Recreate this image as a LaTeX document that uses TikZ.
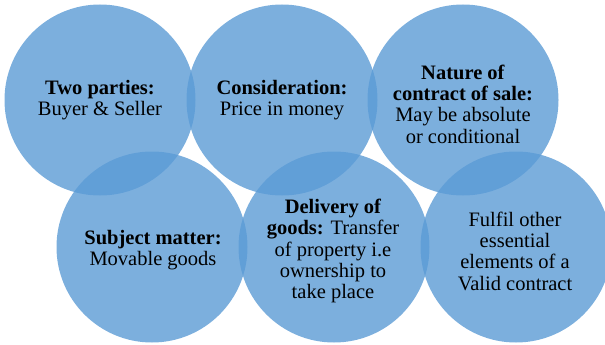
\documentclass[tikz,border=0pt]{standalone}
\usepackage{fontspec}
\setmainfont{Liberation Serif}
\definecolor{bubble}{RGB}{91,155,213}
\begin{document}
\begin{tikzpicture}[x=1pt,y=-1pt,
  bub/.style={circle,minimum size=191pt,inner sep=0pt,fill=bubble,fill opacity=0.8,draw=none},
  lbl/.style={align=center,font=\fontsize{20.5}{21.3}\selectfont,text=black,inner sep=0pt}]
\useasboundingbox (0,0) rectangle (605,345);
\node[bub] (c1) at (100,100) {};
\node[bub] (c2) at (282,100) {};
\node[bub] (c3) at (463,100) {};
\node[bub] (c4) at (152,247) {};
\node[bub] (c5) at (334,247) {};
\node[bub] (c6) at (516,247) {};
\node[lbl] (t1) at (c1.center) {\textbf{Two parties:}\\Buyer \& Seller};
\node[lbl] (t2) at (c2.center) {\textbf{Consideration:}\\Price in money};
\node[lbl] (t3) at (463,104) {\textbf{Nature of}\\\textbf{contract of sale:}\\May be absolute\\or conditional};
\node[lbl] (t4) at (153,250) {\textbf{Subject matter:}\\Movable goods};
\node[lbl] (t5) at (333,251) {\textbf{Delivery of}\\\textbf{goods:} Transfer\\of property i.e\\ownership to\\take place};
\node[lbl] (t6) at (515,251) {Fulfil other\\essential\\elements of a\\Valid contract};
\end{tikzpicture}
\end{document}
